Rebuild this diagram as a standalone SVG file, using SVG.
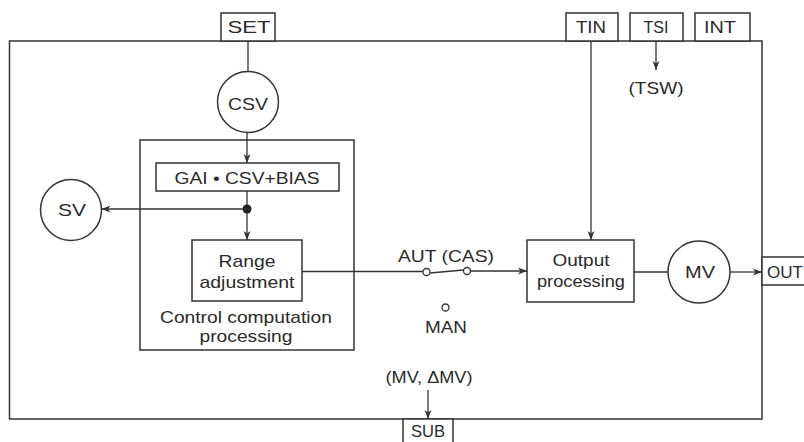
<svg xmlns="http://www.w3.org/2000/svg" width="804" height="442" viewBox="0 0 804 442">
<style>
.b{fill:#fff;stroke:#333;stroke-width:1.5}
.n{fill:none;stroke:#333;stroke-width:1.5}
.l{fill:none;stroke:#333;stroke-width:1.3}
.t{font-family:"Liberation Sans",Arial,sans-serif;font-size:17px;fill:#2a2a2a;text-anchor:middle}
.ts{font-family:"Liberation Sans",Arial,sans-serif;font-size:17px;fill:#2a2a2a}
</style>
<defs>
<marker id="a" markerWidth="10" markerHeight="8" refX="9" refY="4" orient="auto" markerUnits="userSpaceOnUse">
<path d="M0,0.5 L9,4 L0,7.5 L2.5,4 Z" fill="#333"/>
</marker>
</defs>
<rect width="804" height="442" fill="#fff"/>
<g id="frame">
<rect class="n" x="9.5" y="41" width="752.5" height="378"/>
</g>
<g id="SET"><rect class="b" x="221" y="13" width="54" height="28"/><text class="t" x="249" y="33" textLength="43" lengthAdjust="spacingAndGlyphs">SET</text></g>
<g id="TIN"><rect class="b" x="566" y="13" width="52" height="28"/><text class="t" x="591" y="33" textLength="30" lengthAdjust="spacingAndGlyphs">TIN</text></g>
<g id="TSI"><rect class="b" x="630" y="13" width="53" height="28"/><text class="t" x="656" y="33" textLength="25" lengthAdjust="spacingAndGlyphs">TSI</text></g>
<g id="INT"><rect class="b" x="695" y="13" width="55" height="28"/><text class="t" x="720" y="33" textLength="32" lengthAdjust="spacingAndGlyphs">INT</text></g>
<g id="OUT"><rect class="b" x="762" y="257" width="50" height="28"/><text class="ts" x="767" y="278" textLength="36" lengthAdjust="spacingAndGlyphs">OUT</text></g>
<g id="SUB"><rect class="b" x="403" y="419" width="50" height="28"/><text class="t" x="428" y="437" textLength="34" lengthAdjust="spacingAndGlyphs">SUB</text></g>
<g id="control">
<rect class="n" x="140" y="140" width="214" height="210"/>
<text class="t" x="246" y="323" textLength="172" lengthAdjust="spacingAndGlyphs">Control computation</text>
<text class="t" x="246" y="342" textLength="93" lengthAdjust="spacingAndGlyphs">processing</text>
</g>
<g id="CSV"><circle class="b" cx="248" cy="102" r="30.5"/><text class="t" x="248" y="110" textLength="40" lengthAdjust="spacingAndGlyphs">CSV</text></g>
<g id="SV"><circle class="b" cx="71" cy="210" r="30.5"/><text class="t" x="72" y="216" textLength="28" lengthAdjust="spacingAndGlyphs">SV</text></g>
<g id="GAI"><rect class="b" x="156" y="163" width="183" height="28"/><text class="t" x="247" y="184" textLength="145" lengthAdjust="spacingAndGlyphs">GAI • CSV+BIAS</text></g>
<g id="range"><rect class="b" x="192" y="240" width="110" height="61"/><text class="t" x="247" y="267" textLength="57" lengthAdjust="spacingAndGlyphs">Range</text><text class="t" x="247" y="288" textLength="95" lengthAdjust="spacingAndGlyphs">adjustment</text></g>
<g id="output"><rect class="b" x="527" y="240" width="107" height="62"/><text class="t" x="581" y="266" textLength="57" lengthAdjust="spacingAndGlyphs">Output</text><text class="t" x="581" y="287" textLength="88" lengthAdjust="spacingAndGlyphs">processing</text></g>
<g id="MV"><circle class="b" cx="699" cy="272" r="31"/><text class="t" x="700" y="278" textLength="30" lengthAdjust="spacingAndGlyphs">MV</text></g>
<g id="switch">
<circle class="l" cx="426.5" cy="272" r="3.5" fill="#fff"/>
<circle class="l" cx="467" cy="271" r="3.5" fill="#fff"/>
<circle class="l" cx="445.5" cy="307.5" r="3.5" fill="#fff"/>
<text class="t" x="446" y="262" textLength="96" lengthAdjust="spacingAndGlyphs">AUT (CAS)</text>
<text class="t" x="446" y="333" textLength="42" lengthAdjust="spacingAndGlyphs">MAN</text>
</g>
<g id="labels">
<text class="t" x="656" y="94" textLength="55" lengthAdjust="spacingAndGlyphs">(TSW)</text>
<text class="t" x="429" y="383" textLength="87" lengthAdjust="spacingAndGlyphs">(MV, ΔMV)</text>
</g>
<g id="connectors">
<line class="l" x1="248" y1="41" x2="248" y2="71.5"/>
<line class="l" x1="247" y1="132.5" x2="247" y2="163" marker-end="url(#a)"/>
<line class="l" x1="247" y1="191" x2="247" y2="240" marker-end="url(#a)"/>
<circle cx="247" cy="209" r="4.5" fill="#222"/>
<line class="l" x1="247" y1="209" x2="101.5" y2="209" marker-end="url(#a)"/>
<line class="l" x1="302" y1="271.5" x2="423" y2="271.5"/>
<line class="l" x1="430" y1="273" x2="463.5" y2="270"/>
<line class="l" x1="470.5" y1="271" x2="527" y2="271" marker-end="url(#a)"/>
<line class="l" x1="591" y1="41" x2="591" y2="240" marker-end="url(#a)"/>
<line class="l" x1="656" y1="41" x2="656" y2="70" marker-end="url(#a)"/>
<line class="l" x1="634" y1="272" x2="668" y2="272"/>
<line class="l" x1="730" y1="272" x2="762" y2="272" marker-end="url(#a)"/>
<line class="l" x1="428" y1="390" x2="428" y2="419" marker-end="url(#a)"/>
</g>
</svg>
